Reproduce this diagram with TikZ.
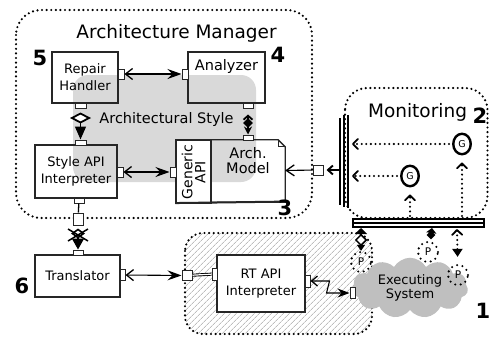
\documentclass[tikz,border=0pt]{standalone}
\usepackage{fontspec}
\setmainfont{DejaVu Sans}
\usetikzlibrary{arrows.meta,shapes.geometric,shapes.symbols,patterns.meta}
\begin{document}
\begin{tikzpicture}[x=1pt,y=-1pt,
  fsm/.style={font=\fontsize{13}{17}\selectfont},
  fmd/.style={font=\fontsize{14.5}{15}\selectfont},
  fbig/.style={font=\fontsize{18.5}{20}\selectfont},
  fnum/.style={font=\fontsize{21}{22}\selectfont\bfseries},
  box/.style={draw=black!85, line width=1.3pt, inner sep=0pt, align=center},
  port/.style={draw=black!85, fill=white, line width=1pt, inner sep=0pt},
  pv/.style={port, minimum width=6pt, minimum height=10pt},
  ph/.style={port, minimum width=10pt, minimum height=5pt},
  dotb/.style={line width=2.4pt, dash pattern=on 0pt off 4.6pt, line cap=round},
  dotc/.style={line width=2.3pt, dash pattern=on 0pt off 4.6pt, line cap=round},
  dblarr/.style={line width=1.1pt, {Straight Barb[length=7pt,width=11pt,line width=1.3pt]}-{Stealth[length=14pt,width=10pt,inset=5pt]}},
  gnode/.style={ellipse, draw, line width=2.4pt, minimum width=17.5pt, minimum height=20.5pt, inner sep=0pt, font=\fontsize{9.5}{9.5}\selectfont},
  pnode/.style={circle, draw, line width=2.3pt, dash pattern=on 0pt off 5.5pt, line cap=round, minimum size=20pt, inner sep=0pt, font=\fontsize{10.5}{10.5}\selectfont},
  mybarb/.tip={Straight Barb[length=5pt,width=10pt,line width=1.8pt,round]}
]
\useasboundingbox (0,0) rectangle (489,337);

% ---------- Architecture Manager ----------
\fill[gray!30, rounded corners=15pt] (73,75) rectangle (256,182);
\draw[dotb, rounded corners=25pt] (16,10) rectangle (312,218);
\node[fbig, anchor=base] (amtitle) at (176.5,38) {Architecture Manager};
\node[fmd, anchor=base] (styletitle) at (166.5,123) {Architectural Style};

% ---------- RT region ----------
\path[pattern={Lines[angle=45,distance=4pt,line width=0.55pt]}, pattern color=gray!80, rounded corners=18pt] (185,233) rectangle (372,334);
\draw[dotb, rounded corners=18pt] (185,233) rectangle (372,334);

% ---------- Monitoring ----------
\draw[dotb, rounded corners=22pt] (345,88) rectangle (487.5,218);
\node[fbig, anchor=base] (montitle) at (417.5,117) {Monitoring};

% ---------- Executing system ----------
\node[cloud, cloud puffs=11, cloud puff arc=120, aspect=1.9, fill=gray!50, minimum width=116pt, minimum height=60pt, inner sep=0pt, align=center, font=\fontsize{13}{13.5}\selectfont] (exec) at (410,288) {Executing\\System};

% ---------- boxes ----------
\node[box, minimum width=66pt, minimum height=51pt, fsm] (repair) at (85,77.5) {Repair\\Handler};
\node[box, minimum width=77pt, minimum height=51pt] (analyzer) at (226.5,77.5) {};
\node[fmd] (analyzertext) at (226.5,66) {Analyzer};
\node[box, minimum width=82pt, minimum height=53pt, fsm] (styleapi) at (76,171.5) {Style API\\Interpreter};
\node[box, fill=white, minimum width=35pt, minimum height=63pt] (generic) at (193.5,171.5) {};
\node[rotate=90, align=center, font=\fontsize{14}{13}\selectfont] (generictext) at (193.5,172) {Generic\\API};
\node[inner sep=0pt, minimum width=74pt, minimum height=62pt] (arch) at (248,171) {};
\draw[draw=black!85, line width=1.3pt] (arch.north west) -- ([xshift=-7pt]arch.north east) -- ([yshift=-7pt]arch.north east) -- (arch.south east) -- (arch.south west) -- cycle;
\draw[draw=black!85, line width=0.9pt] ([xshift=-7pt]arch.north east) |- ([yshift=-7pt]arch.north east);
\draw[draw=black!85, line width=2pt] ([yshift=0.6pt]generic.south west) -- ([yshift=0.6pt]arch.south east);
\node[align=center, font=\fontsize{14.5}{15}\selectfont] (archtext) at (248,161) {Arch.\\Model};
\node[box, minimum width=85pt, minimum height=42pt, fsm] (translator) at (77.5,276) {Translator};
\node[box, fill=white, minimum width=88pt, minimum height=57pt, fsm] (rtapi) at (261,283.5) {RT API\\Interpreter};

% ---------- ports ----------
\node[pv] (rhR) at (121,74) {};
\node[pv] (anL) at (185,74) {};
\node[ph, minimum width=11pt] (rhB) at (80.5,105.5) {};
\node[ph] (anB) at (248,105.5) {};
\node[ph] (amT) at (248,137.5) {};
\node[ph, minimum width=11pt] (saT) at (80.5,142.5) {};
\node[pv] (saR) at (120,172) {};
\node[pv] (gaL) at (173,172) {};
\node[ph] (saB) at (79,200.5) {};
\node[port, minimum width=10pt, minimum height=12pt] (sq1) at (78,219) {};
\node[ph] (trT) at (78,252.5) {};
\node[pv, minimum width=5pt, minimum height=11pt] (trR) at (122.5,275) {};
\node[port, minimum width=10pt, minimum height=10pt] (sq2) at (187,275.5) {};
\node[pv, minimum width=5pt, minimum height=12pt] (rtL) at (214.5,274) {};
\node[pv, minimum width=5pt, minimum height=12pt] (rtR) at (307.5,281) {};
\node[pv, minimum width=5pt, minimum height=11pt] (exL) at (352.5,293) {};
\node[port, minimum width=10pt, minimum height=10pt] (sq3) at (318,170) {};

% ---------- connectors in AM ----------
\draw[dblarr] (rhR) -- (anL);
\draw[dblarr] (saR) -- (gaL);
\draw[line width=1.3pt, shorten <=4pt, {Diamond[length=11pt,width=21pt,fill=white,line width=1.8pt]}-{Triangle[length=13pt,width=11pt]}] (rhB) -- (saT);
\draw[line width=1.3pt, shorten <=6pt, {Straight Barb[length=4pt,width=9pt,line width=1.8pt]}-{Stealth[length=8pt,width=8pt]}] (anB) -- (amT);
\node[diamond, fill=black, minimum width=10pt, minimum height=10pt, inner sep=0pt] (dm1) at (248,123) {};
\draw[line width=1.3pt] (saB) -- (sq1);
\draw[line width=1.3pt, shorten <=3pt, {Diamond[length=10pt,width=14pt,fill=white,line width=1.6pt]}-{Triangle[length=11pt,width=12pt]}] (sq1) -- (trT);
\draw[line width=1.5pt] (68,229) -- (88,241);
\draw[line width=1.5pt] (88,229) -- (68,241);

% ---------- lower connectors ----------
\draw[dblarr] (trR) -- (sq2);
\draw[line width=0.9pt, double, double distance=1.2pt] (sq2) -- (rtL);
\draw[line width=1.1pt, {Straight Barb[length=6pt,width=10pt,line width=1.3pt]}-{Stealth[length=12pt,width=9pt,inset=4pt]}] (rtR) -- ++(22,0) -- ++(-3,12) -- (exL);

% ---------- buses ----------
\draw[line width=1.1pt] (340,118) -- (340,205);
\draw[line width=2.2pt] (344,115) -- (344,207);
\draw[line width=1.1pt] (348,115) -- (348,208);
\draw[line width=1.1pt] (352,219) -- (485,219);
\draw[line width=2.2pt] (352,223) -- (485,223);
\draw[line width=1.1pt] (352,227) -- (485,227);
\draw[line width=1.1pt] (353,218) -- (353,228);
\draw[line width=1.1pt] (484,218) -- (484,228);

% ---------- Arch model <- monitoring ----------
\coordinate (vb3) at (339,170);
\draw[line width=1.1pt, -{Straight Barb[length=8pt,width=11pt,line width=1.3pt]}] (sq3) -- (arch);
\draw[line width=1.6pt, shorten >=3pt, -{Straight Barb[length=5pt,width=9pt,line width=1.9pt]}] (vb3) -- (sq3);

% ---------- gauges ----------
\node[gnode] (g1) at (462,144) {G};
\node[gnode] (g2) at (410,176) {G};
\coordinate (vb1) at (352,144);
\coordinate (vb2) at (352,176);
\coordinate (hb1) at (410,216);
\coordinate (hb2) at (462,216);
\draw[dotc, shorten <=3pt, -mybarb] (g1) -- (vb1);
\draw[dotc, shorten <=3pt, -mybarb] (g2) -- (vb2);
\draw[dotc, shorten >=7pt, -mybarb] (hb1) -- (g2);
\draw[dotc, shorten >=7pt, -mybarb] (hb2) -- (g1);

% ---------- probes ----------
\node[pnode] (p1) at (361,262) {P};
\node[pnode] (p2) at (428,252) {P};
\node[pnode] (p3) at (458,275) {P};
\coordinate (hb3) at (361,228);
\coordinate (hb4) at (432,228);
\coordinate (hb5) at (457,229);
\node[diamond, draw, fill=white, line width=1.5pt, minimum width=11pt, minimum height=11pt, inner sep=0pt] (d1) at (361,240) {};
\draw[line width=1.4pt, {Triangle[length=6pt,width=12pt]}-] (hb3) -- (d1);
\draw[line width=1.4pt, -{Triangle[length=6pt,width=8pt]}] (d1) -- (p1);
\node[diamond, fill=black, minimum width=9pt, minimum height=9pt, inner sep=0pt] (d2) at (431,235) {};
\draw[line width=1.4pt, -{Triangle[length=5pt,width=10pt]}] (d2) -- (hb4);
\draw[dotc, shorten >=7pt, mybarb-{Triangle[length=8pt,width=10pt]}] (hb5) -- (p3);

% ---------- numbers ----------
\node[fnum, anchor=base] (n5) at (40,65) {5};
\node[fnum, anchor=base] (n4) at (278,63) {4};
\node[fnum, anchor=base] (n3) at (285,215) {3};
\node[fnum, anchor=base] (n2) at (480,123) {2};
\node[fnum, anchor=base] (n6) at (22,293) {6};
\node[fnum, anchor=base] (n1) at (483,318) {1};
\end{tikzpicture}
\end{document}
